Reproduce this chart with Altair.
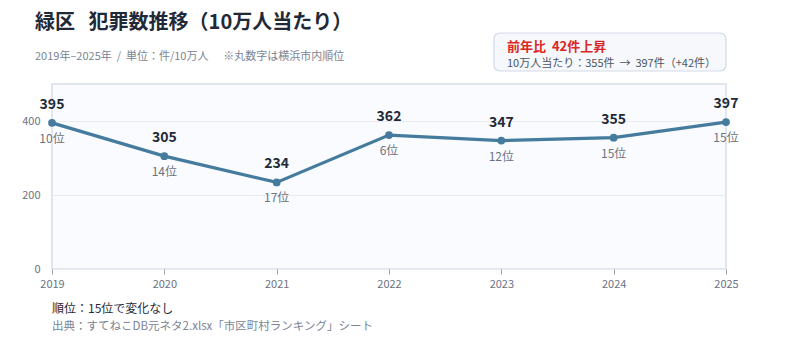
import altair as alt
import pandas as pd

years = ["2019", "2020", "2021", "2022", "2023", "2024", "2025"]
values = [395, 305, 234, 362, 347, 355, 397]
ranks = ["10位", "14位", "17位", "6位", "12位", "15位", "15位"]

NB = "\u00a0"
title_text = f"緑区{NB}{NB}{NB}犯罪数推移（10万人当たり）"
subtitle_text = f"2019年–2025年{NB}{NB}/{NB}{NB}単位：件/10万人{NB*6}※丸数字は横浜市内順位"
box_line1 = f"前年比{NB}{NB}42件上昇"
box_line2 = f"10万人当たり：355件{NB}{NB}→{NB}{NB}397件（+42件）"
foot1 = "順位：15位で変化なし"
foot2 = "出典：すてねこDB元ネタ2.xlsx「市区町村ランキング」シート"

FONT = "Noto Sans CJK JP"
df = pd.DataFrame({"year": years, "value": values, "rank": ranks})

x = alt.X("year:O", scale=alt.Scale(type="point", padding=0),
          axis=alt.Axis(title=None, labelAngle=0, labelFontSize=11, labelColor="#6b7280",
                        tickColor="#9aa3b2", tickSize=5, domain=False, labelPadding=4,
                        labelFont=FONT))
y = alt.Y("value:Q", scale=alt.Scale(domain=[0, 500]),
          axis=alt.Axis(title=None, values=[0, 200, 400], labelFontSize=11, labelColor="#6b7280",
                        ticks=False, domain=False, gridColor="#e8ecf2", labelPadding=12,
                        labelFont=FONT))

base = alt.Chart(df)
line = base.mark_line(color="#457b9d", strokeWidth=3.2).encode(x=x, y=y)
pts = base.mark_point(filled=True, color="#457b9d", size=60, opacity=1).encode(x=x, y=y)
vlab = base.mark_text(dy=-18, fontSize=14, fontWeight="bold", color="#1f2937", font=FONT).encode(
    x=x, y=y, text="value:Q")
rlab = base.mark_text(dy=16, fontSize=12, color="#6b7280", font=FONT).encode(
    x=x, y=y, text="rank:N")

one = pd.DataFrame({"k": [0]})
ann = alt.Chart(one)
title = ann.mark_text(align="left", baseline="middle", fontSize=20, fontWeight="bold",
                      color="#1f2937", font=FONT).encode(
    x=alt.value(-17), y=alt.value(-61), text=alt.value(title_text))
sub = ann.mark_text(align="left", baseline="middle", fontSize=11, color="#7b8494", font=FONT).encode(
    x=alt.value(-17), y=alt.value(-27), text=alt.value(subtitle_text))
box = ann.mark_rect(fill="#f6f8fb", stroke="#d3dae6", strokeWidth=1.2, cornerRadius=6).encode(
    x=alt.value(442), x2=alt.value(674), y=alt.value(-51), y2=alt.value(-13))
b1 = ann.mark_text(align="left", baseline="middle", fontSize=13, fontWeight="bold",
                   color="#dc2626", font=FONT).encode(
    x=alt.value(455), y=alt.value(-37), text=alt.value(box_line1))
b2 = ann.mark_text(align="left", baseline="middle", fontSize=11, color="#4b5563", font=FONT).encode(
    x=alt.value(455), y=alt.value(-20), text=alt.value(box_line2))
f1 = ann.mark_text(align="left", baseline="middle", fontSize=12, color="#1f2937", font=FONT).encode(
    x=alt.value(0), y=alt.value(225), text=alt.value(foot1))
f2 = ann.mark_text(align="left", baseline="middle", fontSize=11.5, color="#7b8494", font=FONT).encode(
    x=alt.value(0), y=alt.value(243), text=alt.value(foot2))

chart = alt.layer(line, pts, vlab, rlab, title, sub, box, b1, b2, f1, f2).properties(
    width=674, height=185,
    autosize=alt.AutoSizeParams(type="none"),
    padding={"left": 52, "top": 84, "right": 74, "bottom": 78},
    background="white",
).configure_view(fill="#f9fbfe", stroke="#d8dee9", strokeWidth=1.5)

chart.save("out.html", embed_options={"renderer": "svg", "actions": False})
